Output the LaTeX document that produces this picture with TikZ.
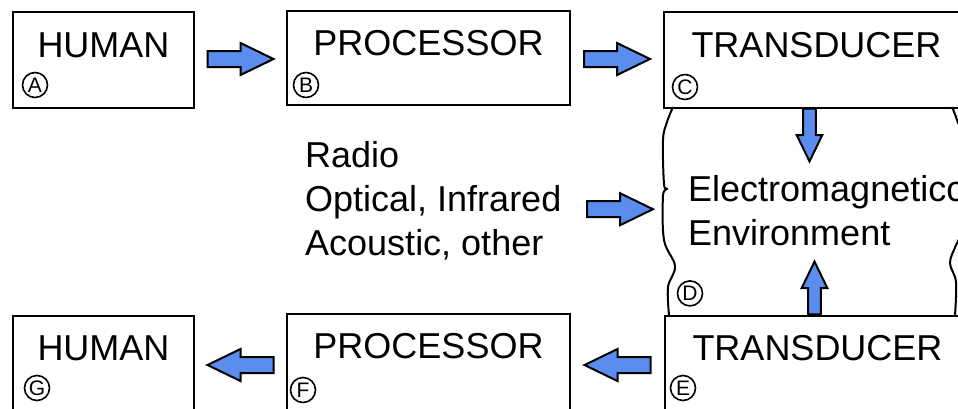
\documentclass[tikz,border=0pt]{standalone}
\usepackage{fontspec}
\setmainfont{Liberation Sans}
\usetikzlibrary{positioning,calc}

\definecolor{arrowblue}{RGB}{91,141,239}

\tikzset{
  stage/.style={draw, line width=2pt, minimum width=#1, minimum height=100pt, inner sep=0pt, anchor=north west},
  title/.style={font=\fontsize{36}{44}\selectfont, inner sep=0pt},
  tag/.style={draw, circle, line width=1.6pt, minimum size=25pt, inner sep=0pt, font=\fontsize{21}{21}\selectfont},
  fatbody/.style={draw, line width=2pt, fill=arrowblue, line join=miter},
  pics/fatarrow/.style={code={
    \draw[fatbody] (-33,-8) -- (0,-8) -- (0,-16) -- (33,0) -- (0,16) -- (0,8) -- (-33,8) -- cycle;}},
}

\begin{document}
\begin{tikzpicture}[x=1pt, y=-1pt]
			\useasboundingbox (0,0) rectangle (958,408);
			\clip (0,0) rectangle (958,408);

			% sending side
			\node (A) [stage=181pt, minimum height=96pt] at (12,11) {};
			\node (B) [stage=283pt, minimum height=94pt] at (286,10) {};
			\node (C) [stage=305pt, minimum height=96pt] at (663,11) {};
			% receiving side
			\node (G) [stage=181pt] at (12,315) {};
			\node (F) [stage=283pt] at (286,313) {};
			\node (E) [stage=305pt] at (664,315) {};
			% the medium in between
			\node (D) [minimum width=300pt, minimum height=208pt, inner sep=0pt, anchor=north west] at (663,107) {};

			\node (Atxt) [title, below=46pt of A.north, anchor=base] {HUMAN};
			\node (Btxt) [title, below=45pt of B.north, anchor=base] {PROCESSOR};
			\node (Ctxt) [title, below=46pt of C.north, anchor=base] {TRANSDUCER};
			\node (Gtxt) [title, below=45pt of G.north, anchor=base] {HUMAN};
			\node (Ftxt) [title, below=45pt of F.north, anchor=base] {PROCESSOR};
			\node (Etxt) [title, below=45pt of E.north, anchor=base] {TRANSDUCER};

			\node (Atag) [tag, below right=74pt and 23pt of A.north west, anchor=center] {A};
			\node (Btag) [tag, below right=75pt and 20pt of B.north west, anchor=center] {B};
			\node (Ctag) [tag, below right=76pt and 22pt of C.north west, anchor=center] {C};
			\node (Dtag) [tag, above right=22pt and 27pt of D.south west, anchor=center] {D};
			\node (Etag) [tag, below right=73pt and 19pt of E.north west, anchor=center] {E};
			\node (Ftag) [tag, below right=77pt and 17pt of F.north west, anchor=center] {F};
			\node (Gtag) [tag, below right=73pt and 25pt of G.north west, anchor=center] {G};

			% base of a multi-line node is its last line
			\node (Dtxt) [title, align=left, anchor=base west] at (688,245) {Electromagneticc\\Environment};
			\node (R) [title, align=left, anchor=base west] at (305,255) {Radio\\Optical, Infrared\\Acoustic, other};

			% ragged sides of the medium
			\draw [line width=2pt] plot [smooth, tension=0.6] coordinates {(673,107) (667,122) (663,140) (664,184) (667,189) (663,196) (664,240) (675,266) (668,287) (669,315)};
			\draw [line width=2pt] plot [smooth, tension=0.6] coordinates {(952,107) (957,120) (966,150) (966,220) (956,245) (950,263) (956,282) (955,315)};

			\pic at ($(A.east)!0.5!(B.west)$) {fatarrow};
			\pic at ($(B.east)!0.5!(C.west)$) {fatarrow};
			\pic [rotate=-90, scale=0.8] at ([xshift=-7pt, yshift=-26pt]C.south) {fatarrow};
			\pic [rotate=90, scale=0.8] at ([xshift=-3pt, yshift=27pt]E.north) {fatarrow};
			\pic at ([xshift=-43pt, yshift=2pt]D.west) {fatarrow};
			\pic [rotate=180] at ($(F.east)!0.5!(E.west)$) {fatarrow};
			\pic [rotate=180] at ($(G.east)!0.5!(F.west)$) {fatarrow};
		\end{tikzpicture}
\end{document}
